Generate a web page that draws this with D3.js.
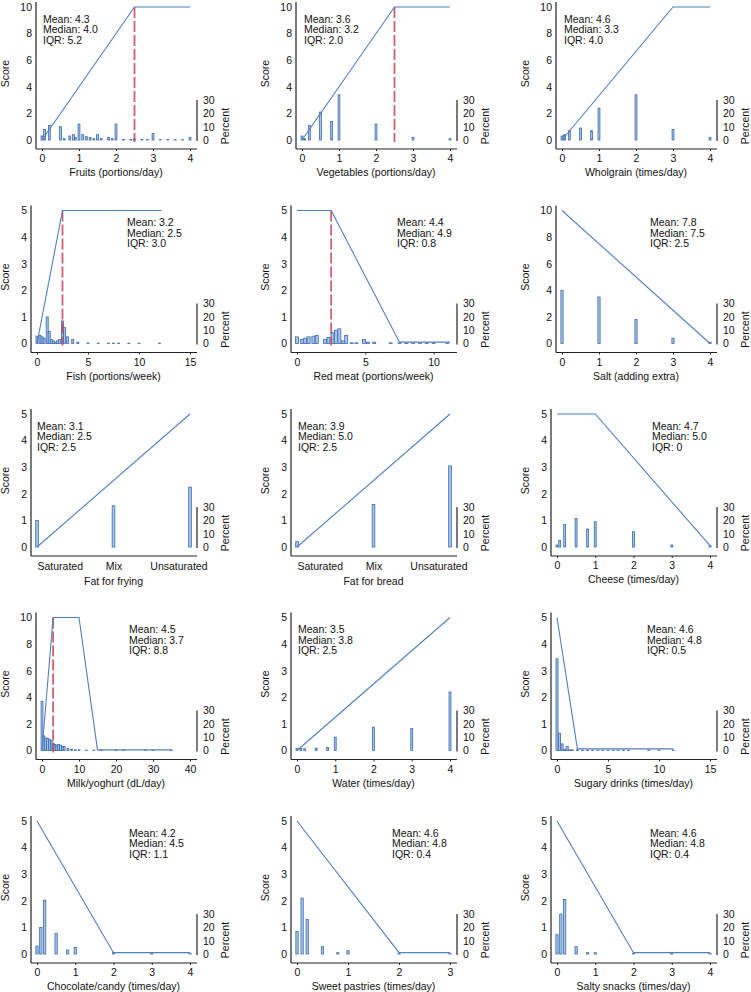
<!DOCTYPE html>
<html>
<head>
<meta charset="utf-8">
<script src="https://cdn.jsdelivr.net/npm/d3@7"></script>
<style>
  body { margin: 0; background: #fff; }
  svg { display: block; font-family: "Liberation Sans", Arial, sans-serif; }
</style>
</head>
<body>
<svg id="chart" width="751" height="992"></svg>
<script>
// histogram bars (x value, percent) and scoring lines for each food item
const fruitsX = [0, 0.07, 0.2, 0.5, 0.6, 0.75, 0.85, 0.9, 1, 1.1, 1.2, 1.3, 1.4, 1.5, 1.6, 1.8, 1.9, 2, 2.2, 2.4, 2.5, 2.7, 2.85, 3, 3.2, 3.4, 3.6, 3.8, 4];
const fruitsPct = [3, 8, 11, 10, 1, 3, 4, 2, 12, 4, 2.5, 2, 1, 4, 1, 2, 1, 12, 0.5, 0.5, 0.7, 0.5, 0.3, 5, 0.3, 0.3, 0.3, 0.3, 2];
const fruitsLineX = [0, 2.5, 4];
const fruitsLineY = [0, 10, 10];
const fruitsStats = ['Mean: 4.3', 'Median: 4.0', 'IQR: 5.2'];

const vegX = [0, 0.07, 0.2, 0.5, 0.8, 1, 2, 3, 4];
const vegPct = [3, 1, 11, 21, 14, 34, 12, 2, 1];
const vegLineX = [0, 2.5, 4];
const vegLineY = [0, 10, 10];
const vegStats = ['Mean: 3.6', 'Median: 3.2', 'IQR: 2.0'];

const wholX = [0, 0.07, 0.2, 0.5, 0.8, 1, 2, 3, 4];
const wholPct = [3, 4, 7, 9, 7, 24, 34, 8, 2];
const wholLineX = [0, 3, 4];
const wholLineY = [0, 10, 10];
const wholStats = ['Mean: 4.6', 'Median: 3.3', 'IQR: 4.0'];

const fishX = [0, 0.3, 0.5, 0.7, 1, 1.2, 1.4, 1.6, 1.8, 2, 2.2, 2.5, 2.7, 3, 3.5, 4, 5, 6, 7, 7.5, 8, 9, 10, 12];
const fishPct = [5.5, 6, 5, 4, 20, 9, 3, 2, 1, 2, 3, 17, 12, 5, 3, 1, 0.4, 0.3, 0.3, 0.3, 0.3, 0.3, 0.3, 0.3];
const fishLineX = [0, 2.5, 12.2];
const fishLineY = [0, 5, 5];
const fishStats = ['Mean: 3.2', 'Median: 2.5', 'IQR: 3.0'];

const meatX = [0, 0.35, 0.6, 0.85, 1.2, 1.45, 2.05, 2.3, 2.6, 2.85, 3.1, 3.35, 3.6, 4, 4.35, 4.9, 5.2, 5.65, 6.85, 7.5, 8, 8.5, 9, 9.5, 10, 11];
const meatPct = [5, 3, 4, 5, 5.5, 6, 3, 4.5, 8, 10, 11, 2, 6, 0.5, 0.5, 3, 1, 1, 0.5, 0.4, 0.3, 0.3, 0.3, 0.3, 0.5, 0.3];
const meatLineX = [0, 2.5, 7.5, 11.2];
const meatLineY = [5, 5, 0.05, 0.05];
const meatStats = ['Mean: 4.4', 'Median: 4.9', 'IQR: 0.8'];

const saltX = [0, 1, 2, 3, 4];
const saltPct = [40, 35, 18, 4, 1];
const saltLineX = [0, 4];
const saltLineY = [10, 0];
const saltStats = ['Mean: 7.8', 'Median: 7.5', 'IQR: 2.5'];

const fatCategories = ['Saturated', 'Mix', 'Unsaturated'];
const fryingX = [0, 1, 2];
const fryingPct = [20, 31, 45];
const fryingLineX = [0, 2];
const fryingLineY = [0, 5];
const fryingStats = ['Mean: 3.1', 'Median: 2.5', 'IQR: 2.5'];

const breadX = [0, 1, 2];
const breadPct = [4, 32, 61];
const breadLineX = [0, 2];
const breadLineY = [0, 5];
const breadStats = ['Mean: 3.9', 'Median: 5.0', 'IQR: 2.5'];

const cheeseX = [0, 0.07, 0.2, 0.5, 0.8, 1, 2, 3, 4];
const cheesePct = [1.5, 5, 17, 21.5, 13.5, 19, 11.5, 1.5, 1];
const cheeseLineX = [0, 1, 4];
const cheeseLineY = [5, 5, 0.05];
const cheeseStats = ['Mean: 4.7', 'Median: 5.0', 'IQR: 0'];

const milkX = [0, 0.5, 1, 1.5, 2, 2.5, 3, 3.5, 4, 4.5, 5, 5.5, 6, 7, 8, 9, 10, 12, 14, 16, 20, 22, 28, 30, 35];
const milkPct = [37, 11, 9.5, 9, 8.5, 7.5, 5.5, 4.5, 4, 4.5, 4, 3, 3, 1.5, 1, 0.5, 0.5, 0.3, 0.3, 0.3, 0.3, 0.3, 0.3, 0.3, 0.3];
const milkLineX = [0, 3, 10, 15, 35];
const milkLineY = [0, 10, 10, 0.05, 0.05];
const milkStats = ['Mean: 4.5', 'Median: 3.7', 'IQR: 8.8'];

const waterX = [0, 0.1, 0.2, 0.5, 0.8, 1, 2, 3, 4];
const waterPct = [1.5, 1.5, 1.3, 1.8, 2.2, 10, 17.5, 16.5, 44];
const waterLineX = [0, 4];
const waterLineY = [0, 5];
const waterStats = ['Mean: 3.5', 'Median: 3.8', 'IQR: 2.5'];

const sugarX = [0, 0.25, 0.5, 0.75, 1, 1.25, 1.5, 2, 2.5, 3, 3.5, 4, 4.5, 5, 5.5, 6, 6.5, 7, 9, 10, 11.4];
const sugarPct = [69, 13, 5, 1, 3, 0.5, 0.5, 0.5, 0.3, 0.3, 0.3, 0.3, 0.3, 0.3, 0.3, 0.3, 0.3, 0.3, 0.3, 0.3, 0.3];
const sugarLineX = [0, 2, 11.4];
const sugarLineY = [5, 0.06, 0.06];
const sugarStats = ['Mean: 4.6', 'Median: 4.8', 'IQR: 0.5'];

const chocX = [0, 0.1, 0.2, 0.5, 0.8, 1, 2, 3, 4];
const chocPct = [6, 20, 40.5, 15.5, 3, 5, 1, 0.3, 0.3];
const chocLineX = [0, 2, 4];
const chocLineY = [5, 0.05, 0.05];
const chocStats = ['Mean: 4.2', 'Median: 4.5', 'IQR: 1.1'];

const pastryX = [0, 0.1, 0.2, 0.5, 0.8, 1, 2, 3];
const pastryPct = [17, 42, 26, 5.5, 1, 2.5, 0.3, 0.3];
const pastryLineX = [0, 2, 3];
const pastryLineY = [5, 0.05, 0.05];
const pastryStats = ['Mean: 4.6', 'Median: 4.8', 'IQR: 0.4'];

const snackX = [0, 0.1, 0.2, 0.5, 0.8, 1, 2, 3, 4];
const snackPct = [14.5, 30, 41, 5.5, 1, 1, 0.3, 0.3, 0.3];
const snackLineX = [0, 2, 4];
const snackLineY = [5, 0.05, 0.05];
const snackStats = ['Mean: 4.6', 'Median: 4.8', 'IQR: 0.4'];

const pctTicks = [0, 10, 20, 30];

const panels = [
  { label: 'Fruits (portions/day)', bx: fruitsX, bp: fruitsPct, lx: fruitsLineX, ly: fruitsLineY, stats: fruitsStats, yMax: 10, xDomain: [0, 4], xTicks: [0, 1, 2, 3, 4], cutoff: 2.5, barW: 0.05, statsDx: 43 },
  { label: 'Vegetables (portions/day)', bx: vegX, bp: vegPct, lx: vegLineX, ly: vegLineY, stats: vegStats, yMax: 10, xDomain: [0, 4], xTicks: [0, 1, 2, 3, 4], cutoff: 2.5, barW: 0.05, statsDx: 44 },
  { label: 'Wholgrain (times/day)', bx: wholX, bp: wholPct, lx: wholLineX, ly: wholLineY, stats: wholStats, yMax: 10, xDomain: [0, 4], xTicks: [0, 1, 2, 3, 4], barW: 0.05, statsDx: 44 },
  { label: 'Fish (portions/week)', bx: fishX, bp: fishPct, lx: fishLineX, ly: fishLineY, stats: fishStats, yMax: 5, xDomain: [0, 15], xTicks: [0, 5, 10, 15], cutoff: 2.5, barW: 0.2, statsDx: 127 },
  { label: 'Red meat (portions/week)', bx: meatX, bp: meatPct, lx: meatLineX, ly: meatLineY, stats: meatStats, yMax: 5, xDomain: [0, 11.2], xTicks: [0, 5, 10], cutoff: 2.5, barW: 0.22, statsDx: 137 },
  { label: 'Salt (adding extra)', bx: saltX, bp: saltPct, lx: saltLineX, ly: saltLineY, stats: saltStats, yMax: 10, xDomain: [0, 4], xTicks: [0, 1, 2, 3, 4], barW: 0.06, statsDx: 130 },
  { label: 'Fat for frying', bx: fryingX, bp: fryingPct, lx: fryingLineX, ly: fryingLineY, stats: fryingStats, yMax: 5, xDomain: [0, 2], xTicks: [0, 1, 2], cats: fatCategories, barW: 0.035, statsDx: 37 },
  { label: 'Fat for bread', bx: breadX, bp: breadPct, lx: breadLineX, ly: breadLineY, stats: breadStats, yMax: 5, xDomain: [0, 2], xTicks: [0, 1, 2], cats: fatCategories, barW: 0.035, statsDx: 38 },
  { label: 'Cheese (times/day)', bx: cheeseX, bp: cheesePct, lx: cheeseLineX, ly: cheeseLineY, stats: cheeseStats, yMax: 5, xDomain: [0, 4], xTicks: [0, 1, 2, 3, 4], barW: 0.05, statsDx: 132 },
  { label: 'Milk/yoghurt (dL/day)', bx: milkX, bp: milkPct, lx: milkLineX, ly: milkLineY, stats: milkStats, yMax: 10, xDomain: [0, 40], xTicks: [0, 10, 20, 30, 40], cutoff: 3, barW: 0.5, statsDx: 129 },
  { label: 'Water (times/day)', bx: waterX, bp: waterPct, lx: waterLineX, ly: waterLineY, stats: waterStats, yMax: 5, xDomain: [0, 4], xTicks: [0, 1, 2, 3, 4], barW: 0.05, statsDx: 38 },
  { label: 'Sugary drinks (times/day)', bx: sugarX, bp: sugarPct, lx: sugarLineX, ly: sugarLineY, stats: sugarStats, yMax: 5, xDomain: [0, 15], xTicks: [0, 5, 10, 15], barW: 0.2, statsDx: 127 },
  { label: 'Chocolate/candy (times/day)', bx: chocX, bp: chocPct, lx: chocLineX, ly: chocLineY, stats: chocStats, yMax: 5, xDomain: [0, 4], xTicks: [0, 1, 2, 3, 4], barW: 0.06, statsDx: 129 },
  { label: 'Sweet pastries (times/day)', bx: pastryX, bp: pastryPct, lx: pastryLineX, ly: pastryLineY, stats: pastryStats, yMax: 5, xDomain: [0, 3], xTicks: [0, 1, 2, 3], barW: 0.045, statsDx: 132 },
  { label: 'Salty snacks (times/day)', bx: snackX, bp: snackPct, lx: snackLineX, ly: snackLineY, stats: snackStats, yMax: 5, xDomain: [0, 4], xTicks: [0, 1, 2, 3, 4], barW: 0.06, statsDx: 130 }
];

const svg = d3.select('#chart');
const colX = [0, 260, 520];
const textColor = '#111';
const plain = d => String(d);

function styleAxis(sel) {
  sel.select('.domain').remove();
  sel.selectAll('text')
    .attr('font-size', 10.5)
    .attr('font-family', '"Liberation Sans", Arial, sans-serif')
    .attr('fill', textColor);
  sel.selectAll('line').attr('stroke', '#222');
}

function drawPanel(p, i) {
  const cx = colX[i % 3];
  const top = 7 + 203.5 * Math.floor(i / 3);
  const y0 = top + 133;
  const axisX = cx + (p.yMax === 10 ? 36 : 31);
  const axisY = y0 + 9;

  const x = d3.scaleLinear().domain(p.xDomain).range([axisX + 6, cx + 190]);
  const y = d3.scaleLinear().domain([0, p.yMax]).range([y0, top]);
  const pct = d3.scaleLinear().domain([0, 100]).range([y0, top]);

  const g = svg.append('g');

  // histogram
  const bars = p.bx.map((v, k) => ({ v, p: p.bp[k] }));
  g.selectAll('.bar')
    .data(bars)
    .enter().append('rect')
    .attr('class', 'bar')
    .attr('x', d => x(d.v - p.barW / 2))
    .attr('width', d => x(d.v + p.barW / 2) - x(d.v - p.barW / 2))
    .attr('y', d => pct(d.p))
    .attr('height', d => y0 - pct(d.p))
    .attr('fill', '#a9c4e9')
    .attr('stroke', '#3b6cb0')
    .attr('stroke-width', 0.8);

  // cut-off
  if (p.cutoff !== undefined) {
    g.append('line')
      .attr('x1', x(p.cutoff)).attr('x2', x(p.cutoff))
      .attr('y1', y(p.yMax)).attr('y2', y0 + 2)
      .attr('stroke', '#c7455a')
      .attr('stroke-opacity', 0.85)
      .attr('stroke-width', 1.8)
      .attr('stroke-dasharray', '11,3');
  }

  // scoring line
  const pts = p.lx.map((v, k) => [v, p.ly[k]]);
  g.append('path')
    .datum(pts)
    .attr('fill', 'none')
    .attr('stroke', '#4f80bf')
    .attr('stroke-width', 1.1)
    .attr('d', d3.line().x(d => x(d[0])).y(d => y(d[1])));

  // axis lines
  g.append('line')
    .attr('x1', axisX).attr('x2', axisX)
    .attr('y1', top - 5).attr('y2', axisY)
    .attr('stroke', '#222').attr('stroke-width', 1.2);
  g.append('line')
    .attr('x1', axisX).attr('x2', cx + 197)
    .attr('y1', axisY).attr('y2', axisY)
    .attr('stroke', '#222').attr('stroke-width', 1.2);
  g.append('line')
    .attr('x1', cx + 197).attr('x2', cx + 197)
    .attr('y1', pct(30)).attr('y2', pct(0) + 1)
    .attr('stroke', '#222').attr('stroke-width', 1.2);

  // score axis
  g.append('g')
    .attr('transform', `translate(${axisX},0)`)
    .call(d3.axisLeft(y)
      .tickValues(d3.range(0, p.yMax + 1, p.yMax === 10 ? 2 : 1))
      .tickFormat(plain).tickSize(0).tickPadding(4))
    .call(styleAxis);

  // percent axis
  g.append('g')
    .attr('transform', `translate(${cx + 197},0)`)
    .call(d3.axisRight(pct).tickValues(pctTicks).tickFormat(plain).tickSize(0).tickPadding(6))
    .call(styleAxis);

  // x axis
  const xAxis = d3.axisBottom(x).tickValues(p.xTicks).tickFormat(plain).tickSize(2).tickPadding(4);
  if (p.cats) xAxis.tickFormat((d, k) => p.cats[k]).tickSize(0).tickPadding(7);
  const xg = g.append('g')
    .attr('transform', `translate(0,${axisY})`)
    .call(xAxis)
    .call(styleAxis);
  if (p.cats) {
    const t = xg.selectAll('text');
    t.filter((d, k) => k === 0).attr('text-anchor', 'start');
    t.filter((d, k) => k === p.cats.length - 1).attr('text-anchor', 'end').attr('dx', 17);
  }

  // axis titles
  g.append('text')
    .attr('x', (x.range()[0] + x.range()[1]) / 2)
    .attr('y', axisY + (p.cats ? 29 : 27))
    .attr('text-anchor', 'middle')
    .attr('font-size', 10.5)
    .attr('fill', textColor)
    .text(p.label);

  g.append('text')
    .attr('transform', `translate(${cx + 9},${(top + y0) / 2}) rotate(-90)`)
    .attr('text-anchor', 'middle')
    .attr('font-size', 10.5)
    .attr('fill', textColor)
    .text('Score');

  g.append('text')
    .attr('transform', `translate(${cx + 229},${pct(15) + 6}) rotate(-90)`)
    .attr('text-anchor', 'middle')
    .attr('font-size', 10.5)
    .attr('fill', textColor)
    .text('Percent');

  // summary statistics
  g.selectAll('.stat')
    .data(p.stats)
    .enter().append('text')
    .attr('class', 'stat')
    .attr('x', cx + p.statsDx)
    .attr('y', (d, k) => top + 15.5 + k * 10.5)
    .attr('font-size', 10.5)
    .attr('fill', textColor)
    .text(d => d);
}

panels.forEach(drawPanel);
</script>
</body>
</html>
